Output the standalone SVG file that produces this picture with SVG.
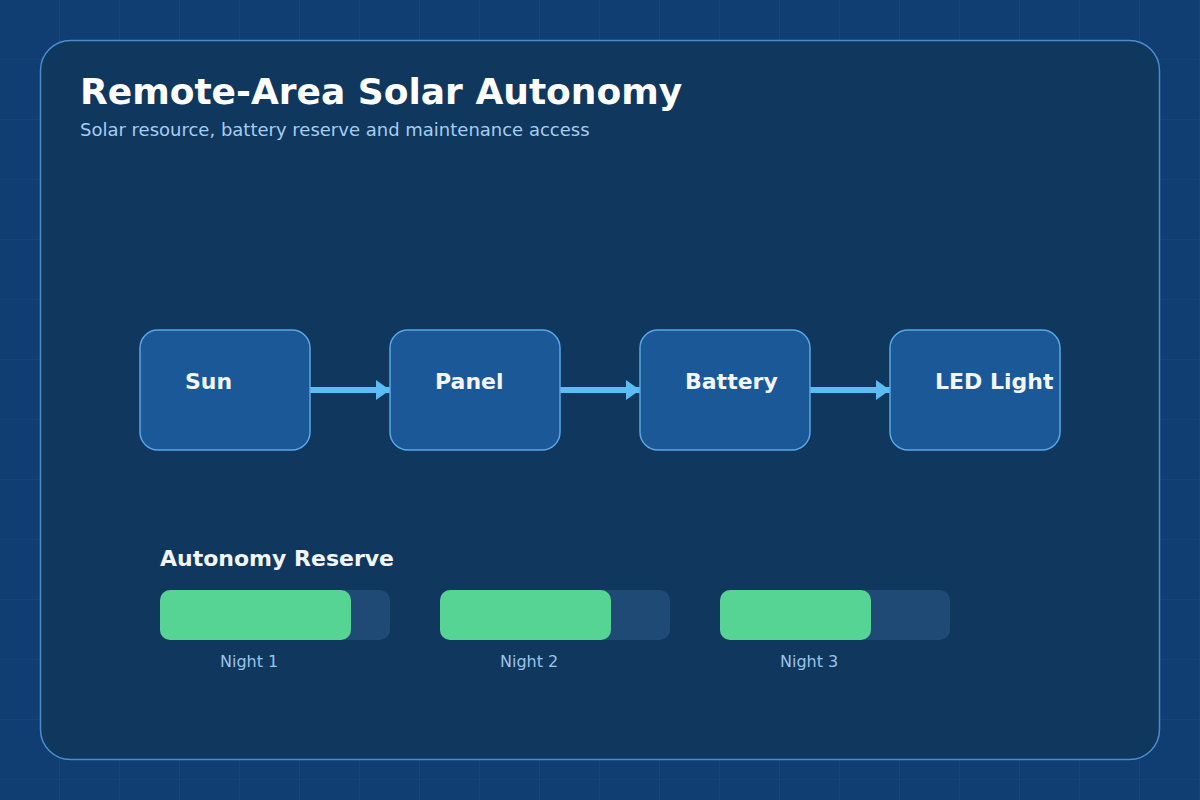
<svg xmlns="http://www.w3.org/2000/svg" width="1200" height="800" viewBox="0 0 1200 800">
<defs>
<pattern id="grid" width="60" height="60" patternUnits="userSpaceOnUse">
<path d="M60 0V60M0 60H60" fill="none" stroke="#1c4b80" stroke-width="1"/>
</pattern>
<marker id="arr" markerWidth="14" markerHeight="20" refX="14" refY="10" orient="auto" markerUnits="userSpaceOnUse">
<path d="M0 0L14 10L0 20Z" fill="#5cbcf4"/>
</marker>
<style>
.node rect{fill:#1a5898;stroke:#5ba6e4;stroke-width:1.5}
.node text{font-family:"DejaVu Sans",sans-serif;font-weight:bold;font-size:22px;fill:#f2f6fb}
.conn line{stroke:#5cbcf4;stroke-width:6}
.track{fill:#1f4a75}
.fill{fill:#55d494}
.lbl{font-family:"DejaVu Sans",sans-serif;font-size:16px;fill:#9cc4ea}
</style>
</defs>
<rect width="1200" height="800" fill="#113e72"/>
<rect width="1200" height="800" fill="url(#grid)"/>
<rect x="40.5" y="40.5" width="1119" height="719" rx="30" fill="#10375e" stroke="#4a8ccc" stroke-width="1.5"/>
<text x="80" y="104" font-family="DejaVu Sans,sans-serif" font-weight="bold" font-size="36" fill="#ffffff">Remote-Area Solar Autonomy</text>
<text x="80" y="136" font-family="DejaVu Sans,sans-serif" font-size="18" fill="#a6cdf0">Solar resource, battery reserve and maintenance access</text>
<g class="conn">
<line x1="310" y1="390" x2="390" y2="390" marker-end="url(#arr)"/>
<line x1="560" y1="390" x2="640" y2="390" marker-end="url(#arr)"/>
<line x1="810" y1="390" x2="890" y2="390" marker-end="url(#arr)"/>
</g>
<g id="sun" class="node"><rect x="140" y="330" width="170" height="120" rx="18"/><text x="185" y="389">Sun</text></g>
<g id="panel" class="node"><rect x="390" y="330" width="170" height="120" rx="18"/><text x="435" y="389">Panel</text></g>
<g id="battery" class="node"><rect x="640" y="330" width="170" height="120" rx="18"/><text x="685" y="389">Battery</text></g>
<g id="led" class="node"><rect x="890" y="330" width="170" height="120" rx="18"/><text x="935" y="389">LED Light</text></g>
<text x="160" y="566" font-family="DejaVu Sans,sans-serif" font-weight="bold" font-size="22" fill="#f2f6fb">Autonomy Reserve</text>
<g id="night1"><rect class="track" x="160" y="590" width="230" height="50" rx="10"/><rect class="fill" x="160" y="590" width="191" height="50" rx="10"/><text class="lbl" x="220" y="667">Night 1</text></g>
<g id="night2"><rect class="track" x="440" y="590" width="230" height="50" rx="10"/><rect class="fill" x="440" y="590" width="171" height="50" rx="10"/><text class="lbl" x="500" y="667">Night 2</text></g>
<g id="night3"><rect class="track" x="720" y="590" width="230" height="50" rx="10"/><rect class="fill" x="720" y="590" width="151" height="50" rx="10"/><text class="lbl" x="780" y="667">Night 3</text></g>
</svg>
